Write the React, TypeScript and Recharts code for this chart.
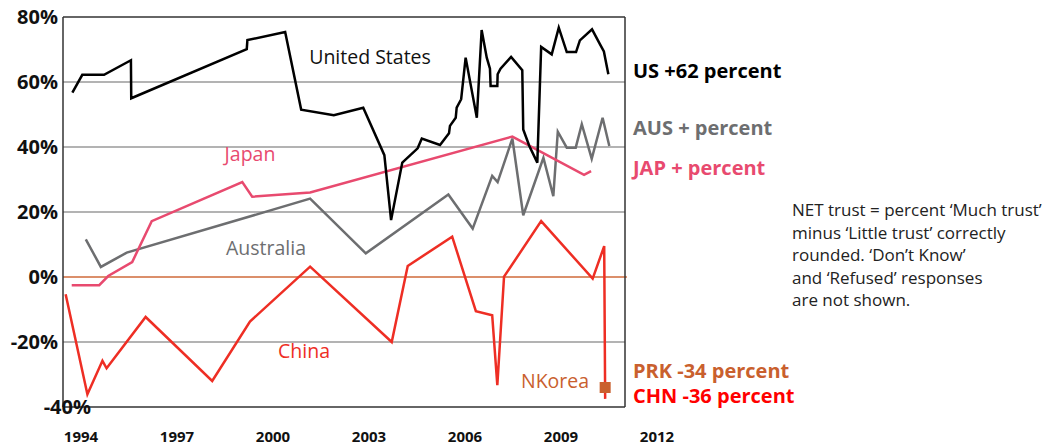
import React from 'react';
import { ComposedChart, Line, XAxis, YAxis, ReferenceLine } from 'recharts';

const FONT = '"Open Sans", "Noto Sans", sans-serif';

const US_YEARS = [1993.73, 1994.04, 1994.72, 1995.56, 1995.57, 1999.18, 1999.2, 2000.38, 2000.88, 2001.9, 2002.82, 2003.48, 2003.69, 2004.04, 2004.52, 2004.65, 2005.22, 2005.5, 2005.53, 2005.71, 2005.74, 2005.88, 2006.02, 2006.37, 2006.52, 2006.68, 2006.78, 2006.8, 2007.01, 2007.02, 2007.11, 2007.44, 2007.79, 2007.82, 2008.01, 2008.26, 2008.38, 2008.71, 2008.93, 2009.18, 2009.47, 2009.59, 2009.97, 2010.22, 2010.34, 2010.48];
const US_VALUES = [56.7, 62.2, 62.2, 66.7, 55.0, 70.1, 72.9, 75.4, 51.5, 49.8, 52.1, 37.5, 17.5, 35.2, 39.6, 42.6, 40.6, 44.2, 46.5, 49.0, 52.1, 54.7, 67.5, 49.0, 76.0, 67.5, 64.1, 58.8, 58.8, 62.4, 64.1, 67.7, 63.6, 45.4, 40.3, 35.2, 70.8, 68.5, 76.7, 69.2, 69.2, 72.8, 76.2, 71.6, 69.4, 62.4];

const JAP_YEARS = [1993.71, 1994.57, 1994.85, 1995.6, 1996.21, 1999.04, 1999.35, 2001.16, 2007.48, 2009.72, 2009.94];
const JAP_VALUES = [-2.5, -2.5, 0.3, 4.6, 17.2, 29.2, 24.7, 26.0, 43.2, 31.4, 32.6];

const AUS_YEARS = [1994.15, 1994.62, 1995.43, 2001.16, 2002.9, 2005.48, 2006.24, 2006.85, 2007.02, 2007.48, 2007.82, 2008.45, 2008.76, 2008.9, 2009.18, 2009.46, 2009.65, 2009.96, 2010.3, 2010.51];
const AUS_VALUES = [11.6, 3.1, 7.5, 24.1, 7.3, 25.4, 14.9, 31.1, 29.2, 42.6, 19.0, 36.7, 24.9, 44.7, 39.8, 39.8, 47.0, 36.4, 49.0, 40.3];

const CHN_YEARS = [1993.52, 1994.2, 1994.67, 1994.8, 1996.02, 1998.1, 1999.28, 2001.16, 2003.71, 2004.21, 2005.6, 2006.34, 2006.85, 2007.01, 2007.22, 2008.38, 2009.99, 2010.35, 2010.38];
const CHN_VALUES = [-5.3, -36.1, -25.8, -28.1, -12.3, -32.0, -13.7, 3.2, -20.0, 3.4, 12.4, -10.5, -11.8, -33.3, 0.1, 17.2, -0.5, 9.5, -37.5];

const PRK_YEARS = [2010.38];
const PRK_VALUES = [-34];

const X_TICKS = [1994, 1997, 2000, 2003, 2006, 2009, 2012];
const Y_TICKS = [-40, -20, 0, 20, 40, 60, 80];
const GRID_VALUES = [60, 40, 20, -20];

const X_MIN = 1993.4375;
const X_MAX = 2013;
const FRAME_RIGHT = 2011;

const toRows = (years: number[], values: number[]) =>
    years.map((year, i) => ({ year, v: values[i] }));

const usData = toRows(US_YEARS, US_VALUES);
const japData = toRows(JAP_YEARS, JAP_VALUES);
const ausData = toRows(AUS_YEARS, AUS_VALUES);
const chnData = toRows(CHN_YEARS, CHN_VALUES);
const prkData = toRows(PRK_YEARS, PRK_VALUES);

const COLORS = {
    us: '#000000',
    aus: '#6d6e70',
    jap: '#e84a6f',
    chn: '#ee2e24',
    prk: '#c9602e',
    grid: '#9a9a9a',
    frame: '#333333',
    zero: '#cf6a3a',
};

const YTick = ({ y, payload }: any) => {
    // the -40% label sits over the axis in the original
    const shift = payload.value === -40 ? 33 : 0;
    return (
        <text x={58 + shift} y={y + 7} textAnchor="end" fontFamily={FONT} fontWeight={700} fontSize={20} fill="#111">
            {`${payload.value}%`}
        </text>
    );
};

const XTick = ({ x, payload }: any) => (
    <text x={x} y={442} textAnchor="middle" fontFamily={FONT} fontWeight={700} fontSize={15} fill="#111">
        {payload.value}
    </text>
);

const SquareDot = ({ cx, cy }: any) => (
    <rect x={cx - 5.5} y={cy - 5.5} width={11} height={11} fill={COLORS.prk} />
);

const label = (text: string, left: number, top: number, color: string) => (
    <div
        style={{
            position: 'absolute',
            left,
            top,
            transform: 'translate(-50%, -50%)',
            whiteSpace: 'nowrap',
            fontFamily: FONT,
            fontSize: 19.5,
            lineHeight: 1,
            color,
        }}
    >
        {text}
    </div>
);

const sideLabel = (text: string, top: number, color: string) => (
    <div
        style={{
            position: 'absolute',
            left: 633,
            top,
            transform: 'translateY(-50%)',
            whiteSpace: 'nowrap',
            fontFamily: FONT,
            fontWeight: 700,
            fontSize: 20,
            lineHeight: 1,
            color,
        }}
    >
        {text}
    </div>
);

export default function App() {
    return (
        <div style={{ position: 'absolute', left: 0, top: 0, width: 1059, height: 446, background: '#fff' }}>
            <ComposedChart width={1059} height={446} margin={{ top: 17, right: 370, bottom: 0, left: 0 }}>
                <XAxis
                    dataKey="year"
                    type="number"
                    domain={[X_MIN, X_MAX]}
                    ticks={X_TICKS}
                    axisLine={false}
                    tickLine={false}
                    height={39}
                    tick={<XTick />}
                    allowDuplicatedCategory={false}
                />
                <YAxis
                    type="number"
                    domain={[-40, 80]}
                    ticks={Y_TICKS}
                    width={63}
                    tickLine={false}
                    axisLine={{ stroke: COLORS.frame, strokeWidth: 1.5 }}
                    tick={<YTick />}
                />
                {GRID_VALUES.map((v) => (
                    <ReferenceLine
                        key={v}
                        segment={[{ x: X_MIN, y: v }, { x: FRAME_RIGHT, y: v }]}
                        stroke={COLORS.grid}
                        strokeWidth={1.5}
                    />
                ))}
                <ReferenceLine segment={[{ x: X_MIN, y: 0 }, { x: FRAME_RIGHT + 0.06, y: 0 }]} stroke={COLORS.zero} strokeWidth={1.3} />
                <ReferenceLine segment={[{ x: X_MIN, y: 80 }, { x: FRAME_RIGHT, y: 80 }]} stroke={COLORS.frame} strokeWidth={1.5} />
                <ReferenceLine segment={[{ x: X_MIN, y: -40 }, { x: FRAME_RIGHT, y: -40 }]} stroke={COLORS.frame} strokeWidth={1.5} />
                <ReferenceLine segment={[{ x: FRAME_RIGHT, y: -40 }, { x: FRAME_RIGHT, y: 80 }]} stroke={COLORS.frame} strokeWidth={1.5} />

                <Line data={ausData} dataKey="v" stroke={COLORS.aus} strokeWidth={2.5} dot={false} activeDot={false} isAnimationActive={false} />
                <Line data={japData} dataKey="v" stroke={COLORS.jap} strokeWidth={2.5} dot={false} activeDot={false} isAnimationActive={false} />
                <Line data={chnData} dataKey="v" stroke={COLORS.chn} strokeWidth={2.5} dot={false} activeDot={false} isAnimationActive={false} />
                <Line data={usData} dataKey="v" stroke={COLORS.us} strokeWidth={2.5} dot={false} activeDot={false} isAnimationActive={false} />
                <Line data={prkData} dataKey="v" stroke="none" dot={<SquareDot />} activeDot={false} isAnimationActive={false} />
            </ComposedChart>

            {label('United States', 370, 57, '#111')}
            {label('Japan', 250, 154, COLORS.jap)}
            {label('Australia', 266, 248, COLORS.aus)}
            {label('China', 304, 351, COLORS.chn)}
            {label('NKorea', 555, 381, COLORS.prk)}

            {sideLabel('US +62 percent', 71, '#000')}
            {sideLabel('AUS + percent', 128, COLORS.aus)}
            {sideLabel('JAP + percent', 168, COLORS.jap)}
            {sideLabel('PRK -34 percent', 371, COLORS.prk)}
            {sideLabel('CHN -36 percent', 396, '#ff0000')}

            <div
                style={{
                    position: 'absolute',
                    left: 792,
                    top: 199,
                    fontFamily: FONT,
                    fontSize: 17,
                    lineHeight: '22.5px',
                    color: '#222',
                    whiteSpace: 'nowrap',
                }}
            >
                NET trust = percent ‘Much trust’<br />
                minus ‘Little trust’ correctly<br />
                rounded. ‘Don’t Know’<br />
                and ‘Refused’ responses<br />
                are not shown.
            </div>
        </div>
    );
}
